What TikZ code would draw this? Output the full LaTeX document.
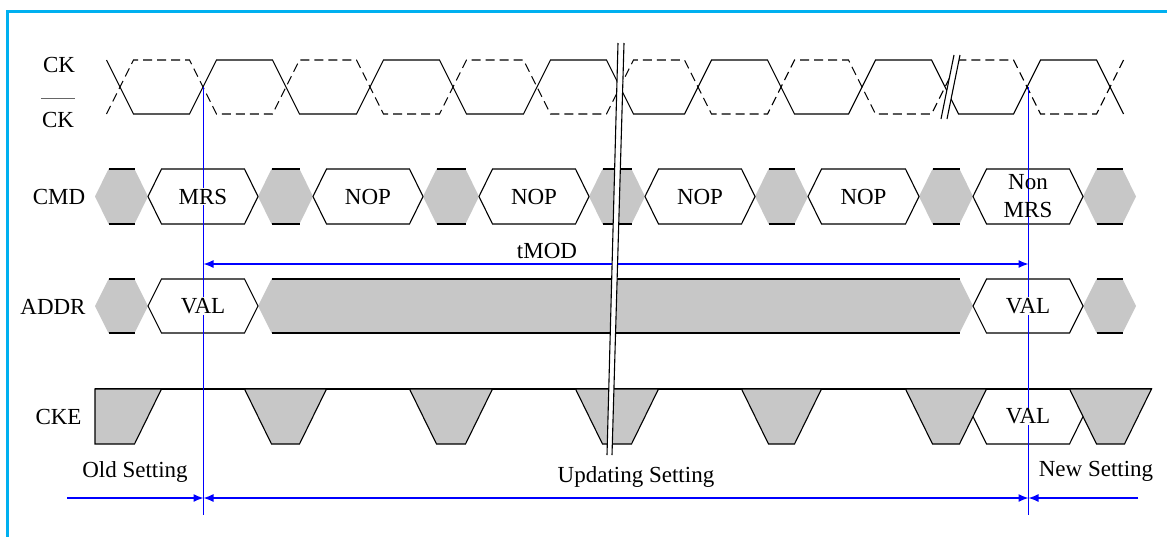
\documentclass[tikz,border=0pt]{standalone}
\usepackage{fontspec}
\setmainfont{Liberation Serif}
\usetikzlibrary{arrows.meta}
\definecolor{framecyan}{RGB}{0,176,240}
\definecolor{guideblue}{RGB}{0,0,255}
\tikzset{
  wave/.style={line width=1.1pt},
  wavedash/.style={wave,dash pattern=on 9pt off 5pt},
  hatch/.style={fill=black!22},
  guide/.style={draw=guideblue,line width=1.3pt},
  span/.style={draw=guideblue,fill=guideblue,line width=1.3pt},
  lbl/.style={font=\fontsize{23}{28}\selectfont,inner sep=1pt},
  lblw/.style={lbl,fill=white},
}
\begin{document}
\begin{tikzpicture}[x=1pt,y=-1pt,>={Latex[length=10pt,width=8pt]}]
\pgfmathsetmacro{\ks}{13.5}
\pgfmathsetmacro{\ckt}{60}
\pgfmathsetmacro{\ckb}{114}
\pgfmathsetmacro{\cmdt}{169}
\pgfmathsetmacro{\cmdb}{224}
\pgfmathsetmacro{\cmdm}{196.5}
\pgfmathsetmacro{\adt}{279}
\pgfmathsetmacro{\adb}{333}
\pgfmathsetmacro{\adm}{306}
\pgfmathsetmacro{\cket}{389}
\pgfmathsetmacro{\ckeb}{444}
\pgfmathsetmacro{\ckem}{416.5}
\useasboundingbox(0,0) rectangle (1167,536);
\draw[framecyan,line width=3pt](7.5,11.5) rectangle (1190,560);
% CK and CK#
\draw[wave](120-\ks,\ckt)--(120+\ks,\ckb)\foreach \c in {203,370,537,698,862,1027}{--(\c-\ks,\ckb)--(\c+\ks,\ckt)--(\c+83-\ks,\ckt)--(\c+83+\ks,\ckb)};
\draw[wavedash](120-\ks,\ckb)--(120+\ks,\ckt)\foreach \c in {203,370,537,698,862,1027}{--(\c-\ks,\ckt)--(\c+\ks,\ckb)--(\c+83-\ks,\ckb)--(\c+83+\ks,\ckt)};
% CMD
\foreach \a/\b in {95/148,258/313,423/479,589/645,755/808,919/973,1083/1136}{
\fill[hatch](\a,\cmdm)--(\a+\ks,\cmdt)--(\b-\ks,\cmdt)--(\b,\cmdm)--(\b-\ks,\cmdb)--(\a+\ks,\cmdb)--cycle;
\draw[wave](\a+\ks,\cmdt)--(\b-\ks,\cmdt)(\a+\ks,\cmdb)--(\b-\ks,\cmdb);}
\foreach \a/\b in {148/258,313/423,479/589,645/755,808/919,973/1083}{
\draw[wave,fill=white](\a,\cmdm)--(\a+\ks,\cmdt)--(\b-\ks,\cmdt)--(\b,\cmdm)--(\b-\ks,\cmdb)--(\a+\ks,\cmdb)--cycle;}
% ADDR
\foreach \a/\b in {95/148,258/973,1083/1136}{
\fill[hatch](\a,\adm)--(\a+\ks,\adt)--(\b-\ks,\adt)--(\b,\adm)--(\b-\ks,\adb)--(\a+\ks,\adb)--cycle;
\draw[wave](\a+\ks,\adt)--(\b-\ks,\adt)(\a+\ks,\adb)--(\b-\ks,\adb);}
\foreach \a/\b in {148/258,973/1083}{
\draw[wave,fill=white](\a,\adm)--(\a+\ks,\adt)--(\b-\ks,\adt)--(\b,\adm)--(\b-\ks,\adb)--(\a+\ks,\adb)--cycle;}
% CKE
\draw[wave](95,\cket)--(1152,\cket);
\draw[wave,hatch](95,\cket)--(95,\ckeb)--(148-\ks,\ckeb)--(148+\ks,\cket)--cycle;
\foreach \a/\b in {258/313,423/479,589/645,755/808,919/973,1083/1138}{
\draw[wave,hatch](\a-\ks,\cket)--(\a+\ks,\ckeb)--(\b-\ks,\ckeb)--(\b+\ks,\cket)--cycle;}
\draw[wave](973,\ckem)--(973+\ks,\ckeb)--(1083-\ks,\ckeb)--(1083,\ckem);
% guides
\coordinate(mrsck) at (203.5,87);
\coordinate(mrsft) at (203.5,515);
\coordinate(nmrsck) at (1028.5,87);
\coordinate(nmrsft) at (1028.5,515);
\draw[guide](nmrsck)--(nmrsft);
\draw[guide](mrsck)--(mrsft);
% bus labels
\foreach \a/\b/\lb in {148/258/MRS,313/423/NOP,479/589/NOP,645/755/NOP,808/919/NOP}{\node[lblw](cmd\a) at ({(\a+\b)/2},\cmdm){\lb};}
\node[lbl,align=center](cmd973) at (1028,\cmdm){Non\\MRS};
\foreach \a/\b in {148/258,973/1083}{\node[lblw](addr\a) at ({(\a+\b)/2},\adm){VAL};}
\node[lblw](cke973) at (1028,\ckem){VAL};
% spans
\coordinate(tmodl) at (203.5,264);
\coordinate(tmodr) at (1028.5,264);
\draw[span,<->](tmodl)--(tmodr);
\node[lbl](tmod) at (547,251){tMOD};
\coordinate(oldl) at (67,498);
\coordinate(setl) at (203.5,498);
\coordinate(setr) at (1028.5,498);
\coordinate(newr) at (1138,498);
\draw[span,->](oldl)--(setl);
\draw[span,<->](setl)--(setr);
\draw[span,->](newr)--(setr);
\node[lbl](old) at (135,472){Old Setting};
\node[lbl](upd) at (636,477){Updating Setting};
\node[lbl](new) at (1096,471){New Setting};
% breaks
\fill[white](618,43)--(624,43)--(612,455)--(607,455)--cycle;
\draw[wave](618,43)--(607,455)(624,43)--(612,455);
\fill[white](954,55)--(960,55)--(947,119)--(941,119)--cycle;
\draw[wave](954,55)--(941,119)(960,55)--(947,119);
% signal names
\node[lbl](ck) at (59,65){CK};
\node[lbl](ckn) at (58,120){CK};
\draw[black!60,line width=1pt]([yshift=13pt]ckn.north west)--([yshift=13pt]ckn.north east);
\node[lbl](cmd) at (59,197){CMD};
\node[lbl](addr) at (53,307){ADDR};
\node[lbl](cke) at (58.5,416.5){CKE};
\end{tikzpicture}
\end{document}
